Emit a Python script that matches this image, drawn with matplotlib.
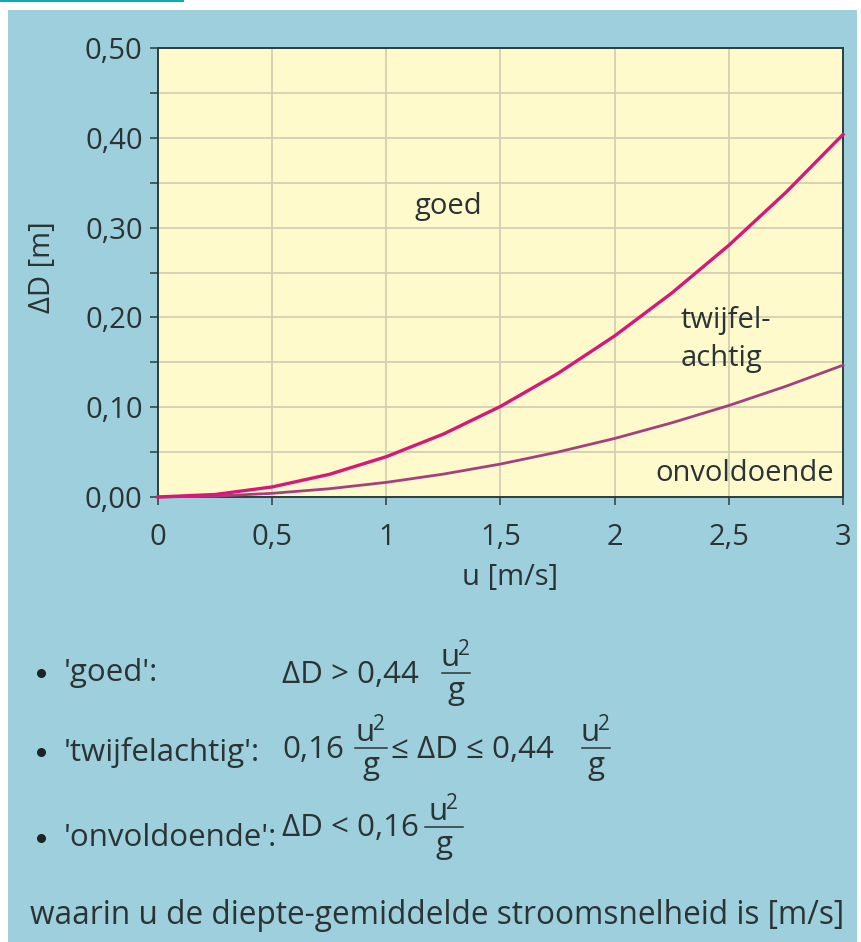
import matplotlib.pyplot as plt
from matplotlib.lines import Line2D
from matplotlib.patches import Rectangle

# flow velocity u [m/s] and the two limit curves
u_values = [0, 0.25, 0.5, 0.75, 1.0, 1.25, 1.5, 1.75, 2.0, 2.25, 2.5, 2.75, 3.0]
limit_goed = [0, 0.0028, 0.0112, 0.0252, 0.0449, 0.0701, 0.1009, 0.1374,
              0.1794, 0.2271, 0.2803, 0.3392, 0.4037]
limit_onvoldoende = [0, 0.0010, 0.0041, 0.0092, 0.0163, 0.0255, 0.0367, 0.0500,
                     0.0652, 0.0826, 0.1019, 0.1233, 0.1468]

x_ticks = [0, 0.5, 1, 1.5, 2, 2.5, 3]
x_tick_labels = ["0", "0,5", "1", "1,5", "2", "2,5", "3"]
y_ticks = [0, 0.1, 0.2, 0.3, 0.4, 0.5]
y_tick_labels = ["0,00", "0,10", "0,20", "0,30", "0,40", "0,50"]
y_minor = [0.05, 0.15, 0.25, 0.35, 0.45]

W, H = 862, 942
PANEL = "#9dcfdc"
YELLOW = "#fffacb"
GRID = "#d3cfb2"
TEXT = "#2b3434"
SPINE = "#2b3d3d"
FS_PLOT = 21
FS_NOTE = 22.5

plt.rcParams["font.family"] = ["Open Sans", "DejaVu Sans"]

fig = plt.figure(figsize=(W / 100, H / 100), dpi=100)
fig.patch.set_facecolor("white")


def fx(x):
    return x / W


def fy(y):
    return 1 - y / H


# light blue panel and small teal line at the top
fig.add_artist(Rectangle((fx(8), 0), fx(857) - fx(8), fy(10), transform=fig.transFigure,
                         facecolor=PANEL, edgecolor="none", zorder=0))
fig.add_artist(Line2D([0, fx(183)], [fy(1), fy(1)], transform=fig.transFigure,
                      color="#14a8b4", lw=1.5))

ax = fig.add_axes([fx(158), fy(497), fx(843) - fx(158), fy(48) - fy(497)])
ax.set_facecolor(YELLOW)
ax.plot(u_values, limit_onvoldoende, color="#a5407e", lw=2.0, zorder=3, clip_on=False)
ax.plot(u_values, limit_goed, color="#d6187a", lw=2.4, zorder=4, clip_on=False)

ax.set_xlim(0, 3)
ax.set_ylim(0, 0.5)
ax.set_xticks(x_ticks)
ax.set_xticklabels(x_tick_labels)
ax.set_yticks(y_ticks)
ax.set_yticklabels(y_tick_labels)
ax.set_yticks(y_minor, minor=True)
ax.grid(True, which="both", color=GRID, lw=1.3)
ax.set_axisbelow(True)
ax.tick_params(which="both", direction="out", length=6, width=1.1, color=SPINE,
               labelsize=FS_PLOT, labelcolor=TEXT)
ax.tick_params(axis="x", pad=13)
ax.tick_params(axis="y", pad=5)
for s in ax.spines.values():
    s.set_color(SPINE)
    s.set_linewidth(1.4)

ax.text(0.514, -0.18, "u [m/s]", transform=ax.transAxes, fontsize=FS_PLOT, color=TEXT,
        ha="center", va="center")
ax.text(-0.168, 0.512, "ΔD [m]", transform=ax.transAxes, fontsize=FS_PLOT, color=TEXT,
        ha="center", va="center", rotation=90)

# region labels inside the plot
ax.text(1.27, 0.323, "goed", fontsize=FS_PLOT, color=TEXT, ha="center", va="center")
ax.text(2.29, 0.175, "twijfel-\nachtig", fontsize=FS_PLOT, color=TEXT, ha="left",
        va="center", linespacing=1.4)
ax.text(2.96, 0.026, "onvoldoende", fontsize=FS_PLOT, color=TEXT, ha="right", va="center")


def ftext(x, y, s, size=FS_NOTE, va="center", **kw):
    fig.text(fx(x), fy(y), s, fontsize=size, color=TEXT, va=va, **kw)


def frac(xc, ybar, half=15):
    # u^2 over g with a fraction bar
    ftext(xc - 6, ybar - 7, "u", va="baseline", ha="center")
    ftext(xc + 2, ybar - 18, "2", size=15, va="baseline", ha="left")
    ftext(xc, ybar + 26, "g", va="baseline", ha="center")
    fig.add_artist(Line2D([fx(xc - half), fx(xc + half)], [fy(ybar), fy(ybar)],
                          transform=fig.transFigure, color=TEXT, lw=1.1))


def bullet(y):
    fig.add_artist(Line2D([fx(41)], [fy(y)], transform=fig.transFigure, marker="o",
                          ms=5.5, color="#1e2424", lw=0))


# criteria below the chart
bullet(673)
ftext(64, 673, "'goed':", ha="left")
ftext(282, 675, "ΔD > 0,44", ha="left")
frac(456, 673, 14)

bullet(752)
ftext(64, 752, "'twijfelachtig':", ha="left")
ftext(282, 750, "0,16", ha="left")
ftext(391, 750, "≤ ΔD ≤ 0,44", ha="left")
frac(371, 748, 16)
frac(596, 748, 14)

bullet(838)
ftext(64, 838, "'onvoldoende':", ha="left")
ftext(282, 828, "ΔD < 0,16", ha="left")
frac(444, 827, 19)

ftext(30, 915, "waarin u de diepte-gemiddelde stroomsnelheid is [m/s]", ha="left", size=22.8)

fig.savefig("out.png", dpi=100)
